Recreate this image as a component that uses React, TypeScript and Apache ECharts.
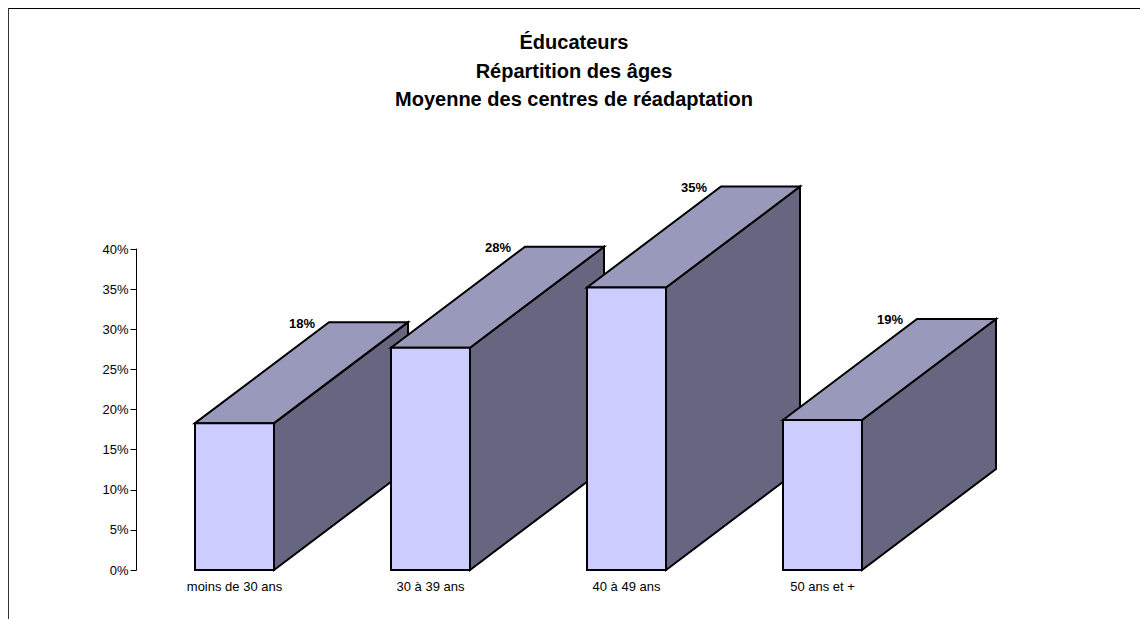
import React, { useEffect, useRef } from "react";
import * as echarts from "echarts";

const titleLines = ["Éducateurs", "Répartition des âges", "Moyenne des centres de réadaptation"];
const categories = ["moins de 30 ans", "30 à 39 ans", "40 à 49 ans", "50 ans et +"];
const values = [0.183, 0.277, 0.352, 0.187];
const yTicks = { min: 0, max: 0.4, interval: 0.05 };

const FONT = "Liberation Sans, Arial, sans-serif";
const DEPTH_X = 134;
const DEPTH_Y = -101;

export default function App() {
  const ref = useRef<HTMLDivElement>(null);
  useEffect(() => {
    if (!ref.current) return;
    const chart = echarts.init(ref.current, undefined, { renderer: "svg" });
    const renderItem = (params: any, api: any) => {
      const idx = api.value(0);
      const v = api.value(1);
      const base = api.coord([idx, 0]);
      const top = api.coord([idx, v]);
      const bandW = api.size([1, 0])[0];
      const w = bandW * 0.403;
      const x0 = base[0] - w / 2;
      const x1 = x0 + w;
      const y0 = base[1];
      const y1 = top[1];
      const stroke = { stroke: "#000", lineWidth: 2, lineJoin: "miter" };
      return {
        type: "group",
        children: [
          {
            type: "polygon",
            shape: { points: [[x1, y1], [x1 + DEPTH_X, y1 + DEPTH_Y], [x1 + DEPTH_X, y0 + DEPTH_Y], [x1, y0]] },
            style: { fill: "#666680", ...stroke },
          },
          {
            type: "polygon",
            shape: { points: [[x0, y1], [x0 + DEPTH_X, y1 + DEPTH_Y], [x1 + DEPTH_X, y1 + DEPTH_Y], [x1, y1]] },
            style: { fill: "#9999BB", ...stroke },
          },
          {
            type: "rect",
            shape: { x: x0, y: y1, width: w, height: y0 - y1 },
            style: { fill: "#CCCCFF", ...stroke },
          },
          {
            type: "text",
            x: x0 + DEPTH_X - 14,
            y: y1 + DEPTH_Y + 1,
            style: {
              text: Math.round(v * 100) + "%",
              align: "right",
              verticalAlign: "middle",
              fill: "#000",
              font: `bold 13px ${FONT}`,
            },
          },
        ],
      };
    };
    chart.setOption({
      animation: false,
      backgroundColor: "#fff",
      title: {
        text: titleLines.join("\n"),
        left: "center",
        top: 23,
        textStyle: { fontFamily: FONT, fontSize: 20, fontWeight: "bold", color: "#000", lineHeight: 28.5 },
      },
      graphic: {
        elements: [
          {
            type: "line",
            silent: true,
            z: 100,
            shape: { x1: 7, y1: 8, x2: 1146, y2: 8 },
            style: { stroke: "#000", lineWidth: 2 },
          },
          {
            type: "line",
            silent: true,
            z: 100,
            shape: { x1: 8, y1: 7, x2: 8, y2: 619 },
            style: { stroke: "#333", lineWidth: 2 },
          },
          {
            type: "line",
            silent: true,
            z: 100,
            shape: { x1: 1145.5, y1: 7, x2: 1145.5, y2: 619 },
            style: { stroke: "#000", lineWidth: 1.5 },
          },
        ],
      },
      grid: { left: 136.5, right: 227.5, top: 249, bottom: 49, containLabel: false },
      xAxis: {
        type: "category",
        data: categories,
        axisLine: { show: false },
        axisTick: { show: false },
        axisLabel: { fontFamily: FONT, fontSize: 13, color: "#000", margin: 10 },
      },
      yAxis: {
        type: "value",
        min: yTicks.min,
        max: yTicks.max,
        interval: yTicks.interval,
        axisLine: { show: true, lineStyle: { color: "#000", width: 1 } },
        axisTick: { show: true, length: 6, lineStyle: { color: "#000" } },
        splitLine: { show: false },
        axisLabel: {
          fontFamily: FONT,
          fontSize: 13,
          color: "#000",
          margin: 8,
          formatter: (val: number) => Math.round(val * 100) + "%",
        },
      },
      series: [
        {
          type: "custom",
          clip: false,
          renderItem,
          data: values.map((v, i) => [i, v]),
        },
      ],
    });
    return () => chart.dispose();
  }, []);
  return (
    <div style={{ margin: "-8px 0 0 -8px", width: 1148, height: 619 }}>
      <div ref={ref} style={{ width: 1148, height: 619 }} />
    </div>
  );
}
